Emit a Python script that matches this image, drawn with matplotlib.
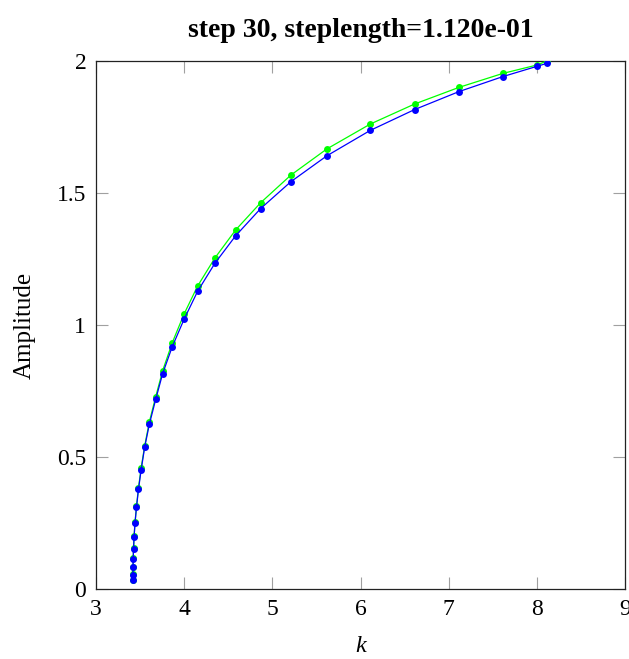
import matplotlib
matplotlib.use("Agg")
import matplotlib.pyplot as plt

# wave number k (same positions for both series)
k_vals = [3.416, 3.418, 3.420, 3.422, 3.426, 3.432, 3.443, 3.459, 3.482, 3.512,
          3.552, 3.605, 3.677, 3.756, 3.865, 3.998, 4.153, 4.349, 4.584, 4.867,
          5.211, 5.619, 6.110, 6.613, 7.116, 7.615, 8.003, 8.113]

amp_green = [0.035, 0.055, 0.083, 0.117, 0.155, 0.200, 0.254, 0.313, 0.384, 0.458,
             0.542, 0.633, 0.728, 0.827, 0.933, 1.041, 1.148, 1.254, 1.360, 1.463,
             1.568, 1.667, 1.761, 1.837, 1.900, 1.953, 1.985, 2.000]

amp_blue = [0.034, 0.054, 0.082, 0.115, 0.153, 0.198, 0.251, 0.309, 0.378, 0.451,
            0.537, 0.624, 0.718, 0.816, 0.918, 1.021, 1.128, 1.234, 1.338, 1.441,
            1.543, 1.641, 1.737, 1.816, 1.884, 1.941, 1.980, 1.991]

x_ticks = [3, 4, 5, 6, 7, 8, 9]
y_ticks = [0, 0.5, 1, 1.5, 2]
y_ticklabels = ["0", "0.5", "1", "1.5", "2"]

plt.rcParams['font.family'] = ['Liberation Serif', 'DejaVu Serif']

fig = plt.figure(figsize=(6.29, 6.59), dpi=100)
ax = fig.add_axes([96/629, 1 - 589/659, 529/629, 528/659])

ax.plot(k_vals, amp_green, color=(0, 1, 0), lw=0.9, marker='o', ms=5,
        markeredgewidth=0, zorder=3)
ax.plot(k_vals, amp_blue, color=(0, 0, 1), lw=0.9, marker='o', ms=5,
        markeredgewidth=0, zorder=4)

ax.set_xlim(3, 9)
ax.set_ylim(0, 2)
ax.set_xticks(x_ticks)
ax.set_yticks(y_ticks)
ax.set_yticklabels(y_ticklabels)
ax.tick_params(direction='in', length=8.5, width=0.8, color='#a0a0a0',
               top=True, right=True, labelsize=17, pad=7)
for s in ax.spines.values():
    s.set_linewidth(0.9)
    s.set_color('#222222')

ax.set_xlabel("k", fontsize=17.5, style='italic', labelpad=12)
ax.set_ylabel("Amplitude", fontsize=18, labelpad=15)
ax.set_title("step 30, steplength=1.120e-01", fontsize=20, fontweight='bold', pad=17)

fig.savefig("out.png", dpi=100)
